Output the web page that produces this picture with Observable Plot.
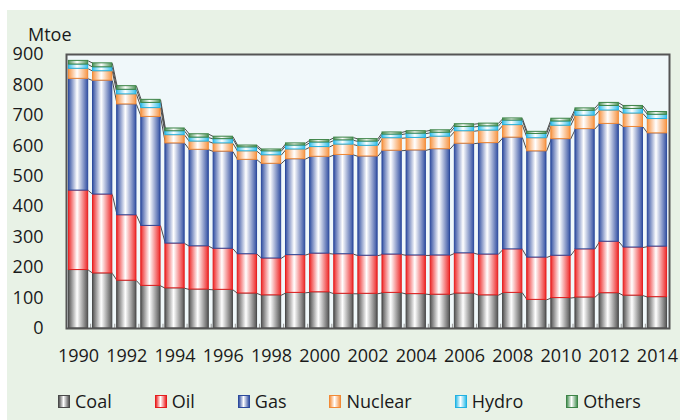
<!DOCTYPE html>
<html>
<head>
<meta charset="utf-8">
<script src="https://cdn.jsdelivr.net/npm/d3@7"></script>
<script src="https://cdn.jsdelivr.net/npm/@observablehq/plot@0.6"></script>
<style>
  html, body { margin: 0; padding: 0; background: #ffffff; }
  #wrap { position: relative; width: 680px; height: 420px; overflow: hidden; font-family: "Open Sans", "Noto Sans", sans-serif; color: #1a1a1a; }
  #bg { position: absolute; left: 7px; top: 10px; width: 673px; height: 410px; background: #e8f2e6; }
  #chart { position: absolute; left: 0; top: 0; }
  #ylab { position: absolute; left: 28px; top: 25px; font-size: 18px; line-height: 18px; }
  #legend { position: absolute; left: 58px; top: 390px; display: flex; gap: 43px; font-size: 18px; line-height: 22px; }
  #legend .item { display: flex; align-items: center; gap: 5px; }
  #legend .sw { width: 10px; height: 11px; border-width: 1.5px; border-style: solid; }
</style>
</head>
<body>
<div id="wrap">
  <div id="bg"></div>
  <div id="chart"></div>
  <div id="ylab">Mtoe</div>
  <div id="legend"></div>
</div>
<script>
const years = [1990,1991,1992,1993,1994,1995,1996,1997,1998,1999,2000,2001,2002,2003,2004,2005,2006,2007,2008,2009,2010,2011,2012,2013,2014];
const fuels = ["Coal","Oil","Gas","Nuclear","Hydro","Others"];
const coal    = [192,181,157,140,132,128,127,115,109,117,119,114,114,117,113,111,115,109,117, 94,100,102,116,108,103];
const oil     = [261,259,215,197,147,142,135,129,121,124,127,130,125,126,127,129,132,134,143,139,139,158,169,158,166];
const gas     = [367,374,364,358,329,317,319,310,311,315,318,326,326,341,345,349,360,366,367,349,383,395,387,396,372];
const nuclear = [ 33, 31, 33, 29, 27, 27, 27, 28, 28, 32, 32, 34, 35, 41, 41, 41, 41, 41, 41, 43, 44, 44, 44, 44, 47];
const hydro   = [ 14, 13, 15, 17, 13, 13, 14, 13, 13, 13, 15, 14, 14, 12, 14, 13, 14, 14, 15, 14, 14, 16, 15, 15, 14];
const others  = [ 12, 13, 12, 10,  9, 11,  8,  6,  6,  7,  8,  9,  8,  7,  8,  8,  9,  9,  7,  7,  9,  8, 10, 10,  9];
const yTicks = [0,100,200,300,400,500,600,700,800,900];
const xTicks = [1990,1992,1994,1996,1998,2000,2002,2004,2006,2008,2010,2012,2014];

const series = [coal, oil, gas, nuclear, hydro, others];
const baseColors = ["#555555", "#ee2a2a", "#3552a3", "#f79646", "#35bfea", "#4c9458"];
const strokeColors = ["#4a4a4a", "#e41e1e", "#2c4a9c", "#f28a35", "#22b2e2", "#3d8447"];

// stacked rows
const rows = [];
years.forEach((yr, i) => {
  let acc = 0;
  series.forEach((s, k) => {
    rows.push({year: yr, fuel: fuels[k], k, y1: acc, y2: acc + s[i]});
    acc += s[i];
  });
});

// series lines connecting the top of each segment between adjacent bars
const links = [];
for (let k = 0; k < fuels.length; k++) {
  const tops = years.map((yr, i) => rows.find(r => r.year === yr && r.k === k).y2);
  for (let i = 0; i < years.length - 1; i++) {
    links.push({x1: years[i] + 0.4, y1: tops[i], x2: years[i + 1] - 0.4, y2: tops[i + 1]});
  }
}

const halfBar = 0.4;

const marks = [
  Plot.frame({fill: "#f0f8fa"}),
  Plot.ruleX(years.slice(0, -1), {x: d => d + 0.5, y1: 0, y2: 14, stroke: "#9a9a9a", strokeWidth: 1}),
  Plot.link(links, {x1: "x1", y1: "y1", x2: "x2", y2: "y2", stroke: "#4d4d4d", strokeWidth: 1})
];
fuels.forEach((f, k) => {
  marks.push(Plot.rect(rows.filter(r => r.k === k), {
    x1: d => d.year - halfBar, x2: d => d.year + halfBar, y1: "y1", y2: "y2",
    fill: `url(#grad${k})`, stroke: strokeColors[k], strokeWidth: 1
  }));
});
marks.push(Plot.frame({stroke: "#555555", strokeWidth: 2}));

const chart = Plot.plot({
  width: 680,
  height: 380,
  marginTop: 54,
  marginLeft: 66,
  marginRight: 11,
  marginBottom: 52,
  style: {background: "transparent", fontFamily: "'Open Sans', 'Noto Sans', sans-serif", fontSize: "18px", color: "#1a1a1a"},
  x: {domain: [1989.5, 2014.5], ticks: xTicks, tickFormat: d => String(d), tickSize: 0, tickPadding: 21, label: null},
  y: {domain: [0, 900], ticks: yTicks, tickSize: 0, tickPadding: 23, label: null},
  marks
});

// gradient defs for the cylinder-like bar fills
const svg = d3.select(chart);
const defs = svg.insert("defs", ":first-child");
baseColors.forEach((c, k) => {
  const g = defs.append("linearGradient").attr("id", `grad${k}`).attr("x1", 0).attr("x2", 1).attr("y1", 0).attr("y2", 0);
  g.append("stop").attr("offset", "0%").attr("stop-color", c);
  g.append("stop").attr("offset", "45%").attr("stop-color", "#ffffff");
  g.append("stop").attr("offset", "100%").attr("stop-color", c);
});
document.getElementById("chart").appendChild(chart);

// legend
const legend = d3.select("#legend");
fuels.forEach((f, k) => {
  const item = legend.append("div").attr("class", "item");
  item.append("div").attr("class", "sw")
    .style("border-color", strokeColors[k])
    .style("background", `linear-gradient(to right, ${baseColors[k]}, #ffffff 45%, ${baseColors[k]})`);
  item.append("span").text(f);
});
</script>
</body>
</html>
